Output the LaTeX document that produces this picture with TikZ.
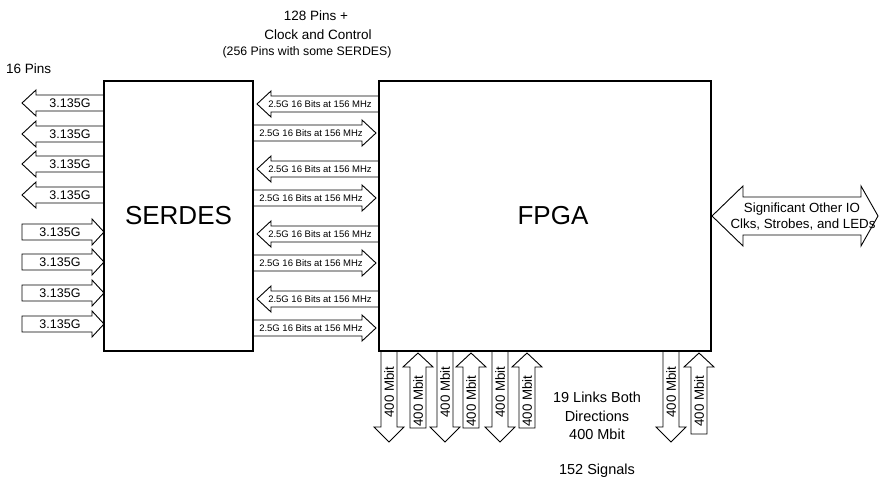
\documentclass[tikz,border=0pt]{standalone}
\usepackage{fontspec}
\setmainfont{Liberation Sans}
\tikzset{
  blk/.style={draw=black, line width=0.9pt, line join=miter},
  box/.style={draw=black, line width=1.5pt, inner sep=0pt},
  bigtxt/.style={font=\fontsize{26}{30}\selectfont},
  gtxt/.style={font=\fontsize{12.5}{14}\selectfont, inner sep=0pt},
  iotxt/.style={font=\fontsize{13.3}{15}\selectfont, inner sep=0pt},
  mtxt/.style={font=\fontsize{9.5}{11}\selectfont, inner sep=0pt},
  vtxt/.style={font=\fontsize{13.3}{15}\selectfont, inner sep=0pt, rotate=90},
  ntxt/.style={font=\fontsize{13.5}{18.5}\selectfont, inner sep=0pt, align=center},
  ltxt/.style={font=\fontsize{14.5}{18.5}\selectfont, inner sep=0pt, align=center},
  stxt/.style={font=\fontsize{12.3}{13}\selectfont, inner sep=0pt}
}
\newcommand\leftarr[4]{\draw[blk] (#1,#4) -- (#2,#4-13) -- (#2,#4-8) -- (#3,#4-8) -- (#3,#4+8) -- (#2,#4+8) -- (#2,#4+13) -- cycle;}
\newcommand\rightarr[4]{\draw[blk] (#1,#4-8) -- (#2,#4-8) -- (#2,#4-13) -- (#3,#4) -- (#2,#4+13) -- (#2,#4+8) -- (#1,#4+8) -- cycle;}
\newcommand\downarr[1]{\draw[blk] (#1-8,351) -- (#1-8,427) -- (#1-15,427) -- (#1,442) -- (#1+15,427) -- (#1+8,427) -- (#1+8,351);}
\newcommand\uparr[2]{\draw[blk] (#1,353) -- (#1+15,367) -- (#1+8,367) -- (#1+8,#2) -- (#1-8,#2) -- (#1-8,367) -- (#1-15,367) -- cycle;}
\begin{document}
\begin{tikzpicture}[x=1pt,y=-1pt]
\useasboundingbox (0,0) rectangle (879,478);
% left SERDES arrows
\foreach \y [count=\i] in {103,134,164,195} {
  \leftarr{22}{36}{104}{\y}
  \node[gtxt] (so\i) at (70,\y) {3.135G};
}
\foreach \y [count=\i] in {232,262,293,324} {
  \rightarr{22}{92}{104}{\y}
  \node[gtxt] (si\i) at (60,\y) {3.135G};
}
% middle arrows
\foreach \y [count=\i] in {104,169,234,299} {
  \leftarr{257}{271}{379}{\y}
  \node[mtxt] (ml\i) at (320,\y) {2.5G 16 Bits at 156 MHz};
}
\foreach \y [count=\i] in {133,198,263,328} {
  \rightarr{253}{362}{376}{\y}
  \node[mtxt] (mr\i) at (311,\y) {2.5G 16 Bits at 156 MHz};
}
% bottom arrows
\foreach \x [count=\i] in {389,445,500,671} {
  \downarr{\x}
  \node[vtxt] (bd\i) at (\x,392) {400 Mbit};
}
\foreach \x/\b [count=\i] in {418/428,471/428,527/428,699/434} {
  \uparr{\x}{\b}
  \node[vtxt] (bu\i) at (\x,401) {400 Mbit};
}
% double arrow right
\draw[blk] (712,216) -- (743,186) -- (743,197) -- (861,197) -- (861,186) -- (878,216) -- (861,246) -- (861,235) -- (743,235) -- (743,246) -- cycle;
\node[iotxt] (io1) at (802,209) {Significant Other IO};
\node[iotxt] (io2) at (803,225) {Clks, Strobes, and LEDs};
% boxes
\node[box, minimum width=149pt, minimum height=270pt, bigtxt] (serdes) at (178.5,216) {SERDES};
\node[box, minimum width=332pt, minimum height=270pt, bigtxt] (fpga) at (545,216) {};
\node[bigtxt, inner sep=0pt] (fpgalbl) at (553,216) {FPGA};
% texts
\node[ntxt, anchor=west] (pins16) at (6,69) {16 Pins};
\node[ntxt] (top1) at (316,16) {128 Pins +};
\node[ntxt] (top2) at (318,35) {Clock and Control};
\node[stxt] (top3) at (307,52) {(256 Pins with some SERDES)};
\node[ltxt] (links) at (597,416) {19 Links Both\\Directions\\400 Mbit};
\node[ltxt] (sig) at (597,471) {152 Signals};
\end{tikzpicture}
\end{document}
